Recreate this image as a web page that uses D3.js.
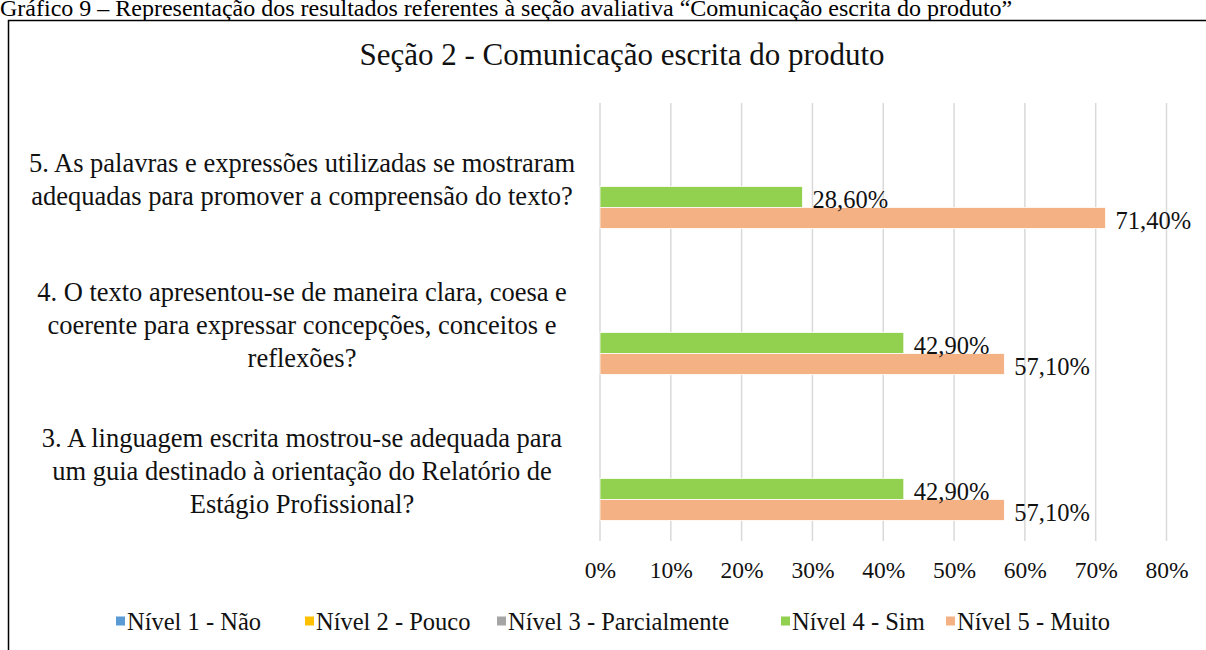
<!DOCTYPE html>
<html>
<head>
<meta charset="utf-8">
<script src="https://cdn.jsdelivr.net/npm/d3@7"></script>
<style>
  body { margin: 0; background: #fff; }
  svg { display: block; font-family: "Liberation Serif", "Times New Roman", serif; }
</style>
</head>
<body>
<div id="container"></div>
<script>
const width = 1206;
const height = 650;
const marginLeft = 600; // plot area starts after the long question labels
const plotRight = 1166.5;
const plotTop = 103;
const plotBottom = 541;

// Questions (top to bottom), already broken into lines like the original
const categories = ["Q5", "Q4", "Q3"];
const categoryLines = [
  ["5. As palavras e expressões utilizadas se mostraram", "adequadas para promover a compreensão do texto?"],
  ["4. O texto apresentou-se de maneira clara, coesa e", "coerente para expressar concepções, conceitos e", "reflexões?"],
  ["3. A linguagem escrita mostrou-se adequada para", "um guia destinado à orientação do Relatório de", "Estágio Profissional?"]
];

const levels = ["Nível 1 - Não", "Nível 2 - Pouco", "Nível 3 - Parcialmente", "Nível 4 - Sim", "Nível 5 - Muito"];
const levelColors = ["#5b9bd5", "#ffc000", "#a5a5a5", "#92d050", "#f4b183"];

// percentages per level, same order as categories
const nivel1 = [null, null, null];
const nivel2 = [null, null, null];
const nivel3 = [null, null, null];
const nivel4 = [28.6, 42.9, 42.9];
const nivel5 = [71.4, 57.1, 57.1];

const xTicks = [0, 10, 20, 30, 40, 50, 60, 70, 80];

const caption = "Gráfico 9 – Representação dos resultados referentes à seção avaliativa \u201cComunicação escrita do produto\u201d";
const title = "Seção 2 - Comunicação escrita do produto";

const seriesValues = [nivel1, nivel2, nivel3, nivel4, nivel5];
const data = [];
categories.forEach((c, i) => {
  levels.forEach((l, j) => {
    if (seriesValues[j][i] != null) data.push({ cat: c, level: l, value: seriesValues[j][i] });
  });
});

const x = d3.scaleLinear().domain([0, 80]).range([marginLeft, plotRight]);
const y = d3.scaleBand().domain(categories).range([plotTop, plotBottom])
  .paddingInner(0.281).paddingOuter(0.1405);
const ySub = d3.scaleBand().domain(levels).range([0, y.bandwidth()]);
const color = d3.scaleOrdinal().domain(levels).range(levelColors);

const svg = d3.select("div#container").append("svg")
  .attr("width", width)
  .attr("height", height)
  .attr("viewBox", [0, 0, width, height]);

// caption above the frame (clipped by the page top in the original)
svg.append("text")
  .attr("x", 0)
  .attr("y", 16)
  .attr("font-size", 24)
  .attr("fill", "#000")
  .text(caption);

// chart frame
svg.append("rect")
  .attr("x", 8.5)
  .attr("y", 20.5)
  .attr("width", 1300)
  .attr("height", 700)
  .attr("fill", "none")
  .attr("stroke", "#000")
  .attr("stroke-width", 1.5);

svg.append("text")
  .attr("x", 622)
  .attr("y", 65)
  .attr("text-anchor", "middle")
  .attr("font-size", 31)
  .attr("fill", "#111")
  .text(title);

// vertical gridlines
svg.append("g")
  .selectAll("line")
  .data(xTicks)
  .join("line")
  .attr("x1", d => x(d))
  .attr("x2", d => x(d))
  .attr("y1", plotTop)
  .attr("y2", plotBottom)
  .attr("stroke", "#d9d9d9")
  .attr("stroke-width", 1.5);

// x axis labels
svg.append("g")
  .attr("transform", `translate(0,${plotBottom})`)
  .call(d3.axisBottom(x).tickValues(xTicks).tickFormat(d => d + "%").tickSize(0).tickPadding(20))
  .call(g => g.select(".domain").remove())
  .call(g => g.selectAll("text")
    .attr("font-family", "Liberation Serif, Times New Roman, serif")
    .attr("font-size", 23.5)
    .attr("fill", "#111"));

// bars
svg.append("g")
  .selectAll("rect")
  .data(data)
  .join("rect")
  .attr("x", x(0))
  .attr("y", d => y(d.cat) + ySub(d.level))
  .attr("width", d => x(d.value) - x(0))
  .attr("height", ySub.bandwidth())
  .attr("fill", d => color(d.level))
  .attr("stroke", "#fff")
  .attr("stroke-width", 0.75);

// data labels
svg.append("g")
  .selectAll("text")
  .data(data)
  .join("text")
  .attr("x", d => x(d.value) + 10)
  .attr("y", d => y(d.cat) + ySub(d.level) + ySub.bandwidth() / 2 + 3)
  .attr("dominant-baseline", "central")
  .attr("font-size", 24.5)
  .attr("fill", "#111")
  .text(d => d.value.toFixed(2).replace(".", ",") + "%");

// category labels, centred in a block left of the plot
const lineGap = 33;
const catLabels = svg.append("g")
  .selectAll("text")
  .data(categories)
  .join("text")
  .attr("text-anchor", "middle")
  .attr("font-size", 26.5)
  .attr("fill", "#111");
catLabels.each(function(c, i) {
  const lines = categoryLines[i];
  const cy = y(c) + y.bandwidth() / 2 + 3;
  d3.select(this).selectAll("tspan")
    .data(lines)
    .join("tspan")
    .attr("x", 302)
    .attr("y", (d, k) => cy + (k - (lines.length - 1) / 2) * lineGap)
    .attr("dominant-baseline", "central")
    .text(d => d);
});

// legend
const legendX = [116, 305, 497, 781, 946];
const legend = svg.append("g")
  .selectAll("g")
  .data(levels)
  .join("g")
  .attr("transform", (d, i) => `translate(${legendX[i]},621)`);
legend.append("rect")
  .attr("x", 0)
  .attr("y", -4.5)
  .attr("width", 9)
  .attr("height", 9)
  .attr("fill", d => color(d));
legend.append("text")
  .attr("x", 11)
  .attr("y", 0)
  .attr("dominant-baseline", "central")
  .attr("font-size", 24.5)
  .attr("fill", "#111")
  .text(d => d);
</script>
</body>
</html>
